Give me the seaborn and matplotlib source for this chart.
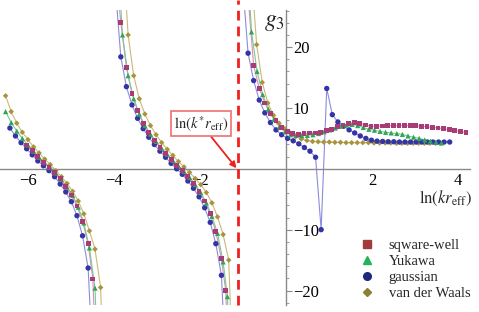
import numpy as np
import pandas as pd
import seaborn as sns
import matplotlib
matplotlib.use('Agg')
import matplotlib.pyplot as plt
from matplotlib.lines import Line2D
from matplotlib.ticker import FixedLocator, MultipleLocator

# --- dados (tres ramos por modelo) ---
# sqware-well
sw_x1 = [-6.03, -5.90, -5.77, -5.64, -5.51, -5.38, -5.25, -5.12, -4.99, -4.86, -4.73, -4.60, -4.49, -4.40]
sw_y1 = [3.9, 3.0, 2.0, 1.05, 0.25, -0.6, -1.65, -2.9, -4.3, -6.1, -8.6, -12.3, -18.1, -35.0]
sw_x2 = [-3.92, -3.84, -3.71, -3.58, -3.45, -3.32, -3.19, -3.06, -2.93, -2.80, -2.67, -2.54, -2.41, -2.28,
         -2.15, -2.02, -1.89, -1.76, -1.63, -1.50, -1.40, -1.32]
sw_y2 = [30.0, 24.0, 16.7, 12.4, 9.6, 7.5, 6.0, 4.7, 3.5, 2.5, 1.5, 0.6, -0.3, -1.3,
         -2.4, -3.7, -5.3, -7.4, -10.3, -14.8, -20.0, -35.0]
sw_x3 = [-0.90, -0.75, -0.62, -0.49, -0.36, -0.23, -0.10, 0.03, 0.16, 0.29, 0.42, 0.55, 0.68, 0.81,
         0.94, 1.07, 1.20, 1.33, 1.46, 1.59, 1.72, 1.85, 1.98, 2.11, 2.24, 2.37, 2.50, 2.63,
         2.76, 2.89, 3.02, 3.15, 3.28, 3.41, 3.54, 3.67, 3.80, 3.93, 4.06, 4.19]
sw_y3 = [30.0, 17.0, 13.2, 10.8, 9.1, 7.9, 6.8, 6.1, 5.8, 5.7, 5.8, 5.9, 5.9, 6.0,
         6.3, 6.5, 7.0, 7.2, 7.4, 7.6, 7.5, 7.2, 7.0, 7.0, 7.05, 7.1, 7.1, 7.1,
         7.1, 7.1, 7.1, 7.0, 6.9, 6.8, 6.7, 6.6, 6.4, 6.3, 6.1, 6.0]

# Yukawa
yu_x1 = [-6.52, -6.39, -6.26, -6.13, -6.00, -5.87, -5.74, -5.61, -5.48, -5.35, -5.22, -5.09, -4.96,
         -4.83, -4.70, -4.57, -4.44, -4.36]
yu_y1 = [9.4, 7.6, 6.2, 5.0, 3.9, 2.9, 1.9, 1.0, 0.2, -0.7, -1.75, -3.0, -4.4,
         -6.3, -8.9, -13.0, -19.6, -35.0]
yu_x2 = [-3.87, -3.80, -3.67, -3.54, -3.41, -3.28, -3.15, -3.02, -2.89, -2.76, -2.63, -2.50, -2.37,
         -2.24, -2.11, -1.98, -1.85, -1.72, -1.59, -1.46, -1.36, -1.28]
yu_y2 = [30.0, 22.0, 15.3, 11.5, 9.0, 7.1, 5.7, 4.5, 3.4, 2.4, 1.4, 0.5, -0.4,
         -1.4, -2.6, -3.9, -5.6, -7.8, -10.6, -15.3, -21.0, -35.0]
yu_x3 = [-0.86, -0.80, -0.67, -0.54, -0.41, -0.28, -0.15, -0.02, 0.11, 0.24, 0.37, 0.50, 0.63,
         0.76, 0.89, 1.02, 1.15, 1.28, 1.41, 1.54, 1.67, 1.80, 1.93, 2.06, 2.19, 2.32,
         2.45, 2.58, 2.71, 2.84, 2.97, 3.10, 3.23, 3.36, 3.49, 3.62]
yu_y3 = [30.0, 22.5, 16.0, 12.2, 9.8, 8.1, 6.9, 6.1, 5.6, 5.5, 5.45, 5.5, 5.6,
         5.8, 6.1, 6.4, 6.7, 7.0, 7.2, 7.3, 7.1, 6.8, 6.5, 6.35, 6.15, 6.0,
         5.9, 5.8, 5.65, 5.4, 5.2, 5.0, 4.75, 4.55, 4.35, 4.25]

# gaussian
ga_x1 = [-6.42, -6.29, -6.16, -6.03, -5.90, -5.77, -5.64, -5.51, -5.38, -5.25, -5.12, -4.99, -4.86,
         -4.73, -4.60, -4.47]
ga_y1 = [6.7, 5.4, 4.3, 3.3, 2.3, 1.3, 0.5, -0.3, -1.3, -2.5, -3.8, -5.4, -7.7,
         -11.0, -16.3, -35.0]
ga_x2 = [-3.97, -3.84, -3.71, -3.58, -3.45, -3.32, -3.19, -3.06, -2.93, -2.80, -2.67, -2.54, -2.41,
         -2.28, -2.15, -2.02, -1.89, -1.76, -1.63, -1.50, -1.40]
ga_y2 = [30.0, 18.4, 13.5, 10.5, 8.3, 6.6, 5.2, 4.0, 2.9, 1.9, 0.9, 0.0, -0.9,
         -2.0, -3.2, -4.6, -6.4, -8.8, -12.3, -17.5, -32.0]
ga_x3 = [-1.00, -0.88, -0.75, -0.62, -0.49, -0.36, -0.23, -0.10, 0.04, 0.17, 0.30, 0.43, 0.56,
         0.69, 0.82, 0.95, 1.08, 1.21, 1.34, 1.47, 1.60, 1.73, 1.86, 1.99, 2.12, 2.25,
         2.38, 2.51, 2.64, 2.77, 2.90, 3.03, 3.16, 3.29, 3.42, 3.55, 3.68, 3.81]
ga_y3 = [30.0, 19.0, 14.5, 11.3, 9.2, 7.6, 6.4, 5.6, 5.0, 4.6, 4.1, 3.5, 2.9,
         1.9, -10.0, 13.2, 8.9, 7.7, 7.0, 6.4, 5.9, 5.4, 5.0, 4.7, 4.55, 4.5,
         4.45, 4.45, 4.4, 4.4, 4.4, 4.4, 4.4, 4.4, 4.4, 4.4, 4.4, 4.4]

# van der Waals
vw_x1 = [-6.52, -6.39, -6.26, -6.13, -6.00, -5.87, -5.74, -5.61, -5.48, -5.35, -5.22, -5.09, -4.96,
         -4.83, -4.70, -4.57, -4.44, -4.31, -4.24]
vw_y1 = [12.0, 9.4, 7.5, 6.0, 4.8, 3.6, 2.6, 1.6, 0.7, -0.3, -1.3, -2.4, -3.7,
         -5.3, -7.4, -10.2, -13.2, -19.5, -35.0]
vw_x2 = [-3.74, -3.67, -3.54, -3.41, -3.28, -3.15, -3.02, -2.89, -2.76, -2.63, -2.50, -2.37, -2.24,
         -2.11, -1.98, -1.85, -1.72, -1.59, -1.46, -1.33, -1.20]
vw_y2 = [30.0, 22.0, 15.3, 11.5, 9.0, 7.1, 5.6, 4.3, 3.2, 2.2, 1.2, 0.3, -0.6,
         -1.6, -2.6, -3.9, -5.6, -7.9, -10.8, -15.0, -40.0]
vw_x3 = [-0.78, -0.68, -0.55, -0.42, -0.29, -0.16, -0.03, 0.10, 0.23, 0.36, 0.49, 0.62, 0.75,
         0.88, 1.01, 1.14, 1.27, 1.40, 1.53, 1.66, 1.79, 1.92, 2.05, 2.18, 2.31, 2.44,
         2.57, 2.70, 2.83, 2.96, 3.09, 3.22, 3.35, 3.48, 3.61]
vw_y3 = [30.0, 20.4, 14.2, 10.8, 8.8, 7.5, 6.6, 5.9, 5.3, 4.9, 4.65, 4.5, 4.45,
         4.4, 4.4, 4.35, 4.35, 4.3, 4.3, 4.3, 4.3, 4.3, 4.25, 4.25, 4.25, 4.25,
         4.2, 4.2, 4.2, 4.2, 4.2, 4.2, 4.2, 4.2, 4.2]

modelos = ['sqware-well', 'Yukawa', 'gaussian', 'van der Waals']
x_tick_vals = [-6, -4, -2, 2, 4]
y_tick_vals = [-20, -10, 10, 20]
k_star = -1.12  # ln(k* r_eff)

# monta o dataframe longo
ramos = {
    'sqware-well': [(sw_x1, sw_y1), (sw_x2, sw_y2), (sw_x3, sw_y3)],
    'Yukawa': [(yu_x1, yu_y1), (yu_x2, yu_y2), (yu_x3, yu_y3)],
    'gaussian': [(ga_x1, ga_y1), (ga_x2, ga_y2), (ga_x3, ga_y3)],
    'van der Waals': [(vw_x1, vw_y1), (vw_x2, vw_y2), (vw_x3, vw_y3)],
}
linhas = []
for m in modelos:
    for i, (xs, ys) in enumerate(ramos[m]):
        for xv, yv in zip(xs, ys):
            linhas.append({'x': xv, 'y': yv, 'modelo': m, 'ramo': f'{m}-{i}'})
df = pd.DataFrame(linhas)

cor_linha = {'sqware-well': '#d890b4', 'Yukawa': '#7cc896', 'gaussian': '#8c8cdc', 'van der Waals': '#cdb878'}
cor_marca = {'sqware-well': '#a83c76', 'Yukawa': '#2fa556', 'gaussian': '#3434a6', 'van der Waals': '#a8943c'}
marcas = {'sqware-well': 's', 'Yukawa': '^', 'gaussian': 'o', 'van der Waals': 'D'}
tamanhos = {'sqware-well': 12, 'Yukawa': 14, 'gaussian': 15, 'van der Waals': 8}

sns.set_style('white')
serif = ['Liberation Serif', 'DejaVu Serif']
plt.rcParams['font.family'] = 'serif'
plt.rcParams['font.serif'] = serif
plt.rcParams['mathtext.fontset'] = 'stix'

fig = plt.figure(figsize=(4.79, 3.12), dpi=100)
ax = fig.add_axes([0.0, 0.022, 0.981, 0.946])

# linhas finas
for m in modelos:
    sub = df[df['modelo'] == m]
    sns.lineplot(data=sub, x='x', y='y', units='ramo', estimator=None, sort=False,
                 color=cor_linha[m], lw=0.8, ax=ax, legend=False)
# marcadores
for m in ['van der Waals', 'gaussian', 'Yukawa', 'sqware-well']:
    sub = df[df['modelo'] == m]
    sns.scatterplot(data=sub, x='x', y='y', marker=marcas[m], color=cor_marca[m],
                    s=tamanhos[m], edgecolor='none', ax=ax, legend=False, zorder=3)

ax.set_xlim(-6.65, 4.28)
ax.set_ylim(-22.4, 26.1)

# eixos no estilo Mathematica
ax.spines['top'].set_visible(False)
ax.spines['left'].set_visible(False)
ax.spines['bottom'].set_position(('data', 0))
ax.spines['right'].set_position(('data', 0))
for s in ['bottom', 'right']:
    ax.spines[s].set_color('#8a8a8a')
    ax.spines[s].set_linewidth(1.0)
ax.yaxis.tick_right()
ax.xaxis.set_major_locator(FixedLocator(x_tick_vals))
ax.yaxis.set_major_locator(FixedLocator(y_tick_vals))
ax.xaxis.set_minor_locator(MultipleLocator(0.5))
ax.yaxis.set_minor_locator(MultipleLocator(2))
ax.tick_params(axis='x', which='both', direction='in', colors='#8a8a8a', labelcolor='black',
               labelsize=12, pad=3, labelfontfamily='Liberation Serif')
ax.tick_params(axis='y', which='both', direction='out', colors='#8a8a8a', labelcolor='black',
               labelsize=12, pad=1, labelfontfamily='Liberation Serif')
ax.tick_params(which='major', length=4, width=0.8)
ax.tick_params(which='minor', length=2.5, width=0.6)
ax.set_xlabel('')
ax.set_ylabel('')
ax.grid(False)

# linha vermelha tracejada em ln(k* r_eff)
ax.axvline(k_star, ymin=0, ymax=1.035, color='#ee2020', ls=(0, (3.5, 2.2)), lw=2, clip_on=False, zorder=4)
ax.annotate(r'$\ln\!\left(k^{*}r_{\rm eff}\right)$', xy=(k_star - 0.03, 0.1), xytext=(-1.98, 7.4),
            ha='center', va='center', fontsize=10.5,
            bbox=dict(boxstyle='square,pad=0.2', fc='white', ec='#f07070', lw=1.2),
            arrowprops=dict(arrowstyle='-|>', color='#ee2020', lw=1.3, mutation_scale=9,
                            shrinkA=0, shrinkB=0), zorder=5)

# rotulos dos eixos
ax.text(-0.27, 24.0, r'$g_3$', fontsize=17, ha='center', va='center')
ax.text(4.33, -4.8, r'$\ln\!\left(k r_{\rm eff}\right)$', fontsize=12, ha='right', va='center')

# legenda
leg_cores = ['#a23c3a', '#22b455', '#1c2a78', '#8a8036']
handles = [Line2D([], [], ls='none', marker=marcas[m], color=c, markersize=5.5 if m != 'van der Waals' else 4.5)
           for m, c in zip(modelos, leg_cores)]
fig.legend(handles, modelos, loc='upper left', bbox_to_anchor=(0.735, 0.258), frameon=False,
           prop={'family': 'Liberation Serif', 'size': 10.5},
           handlelength=1.0, handletextpad=1.0, labelspacing=0.2, borderpad=0)

plt.savefig('out.png', dpi=100)
plt.close()
